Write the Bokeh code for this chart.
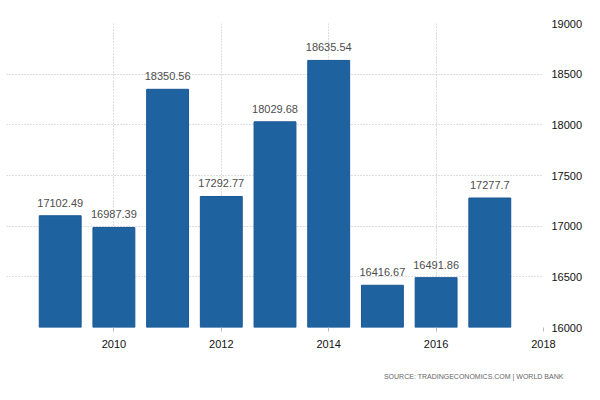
from bokeh.plotting import figure
from bokeh.models import Range1d, FixedTicker, Title
from bokeh.embed import file_html
from bokeh.resources import INLINE
from bokeh.core.properties import value

years = [2009, 2010, 2011, 2012, 2013, 2014, 2015, 2016, 2017]
values = [17102.49, 16987.39, 18350.56, 17292.77, 18029.68, 18635.54, 16416.67, 16491.86, 17277.7]
bar_labels = ["17102.49", "16987.39", "18350.56", "17292.77", "18029.68",
              "18635.54", "16416.67", "16491.86", "17277.7"]
x_ticks = [2010, 2012, 2014, 2016, 2018]
y_ticks = [16000, 16500, 17000, 17500, 18000, 18500, 19000]
source_text = "SOURCE: TRADINGECONOMICS.COM | WORLD BANK"

FONT = "Liberation Sans"

p = figure(width=600, height=400, output_backend="svg", toolbar_location=None,
           x_range=Range1d(2008, 2018), y_range=Range1d(16000, 19000),
           y_axis_location="right",
           min_border_left=6, min_border_right=57, min_border_top=23, min_border_bottom=72)
p.outline_line_color = None
p.background_fill_color = "white"

p.vbar(x=years, top=values, bottom=16000, width=0.78,
       fill_color="#1f62a0", line_color="#1a5794", line_width=1)

p.text(x=years, y=values, text=bar_labels, y_offset=-9,
       text_align="center", text_baseline="bottom",
       text_font=value(FONT), text_font_size="11px", text_color="#4d4d4d")

p.xaxis.ticker = FixedTicker(ticks=x_ticks)
p.yaxis.ticker = FixedTicker(ticks=y_ticks)
for ax in (p.xaxis[0], p.yaxis[0]):
    ax.axis_line_color = None
    ax.minor_tick_line_color = None
    ax.major_label_text_font = FONT
    ax.major_label_text_font_size = "11px"
    ax.major_label_text_color = "#111111"
p.xaxis.major_tick_in = 0
p.xaxis.major_tick_out = 4
p.xaxis.major_tick_line_color = "#bbbbbb"
p.xaxis.major_label_standoff = 8
p.yaxis.major_tick_line_color = None
p.yaxis.major_label_standoff = 2

p.xgrid.ticker = FixedTicker(ticks=[2010, 2012, 2014, 2016])
p.ygrid.ticker = FixedTicker(ticks=y_ticks)
for g in (p.xgrid[0], p.ygrid[0]):
    g.grid_line_color = "#bdbdbd"
    g.grid_line_dash = "1 2"
    g.grid_line_width = 1

src = Title(text=source_text, align="right", text_font=FONT, text_font_size="7px",
            text_font_style="normal", text_color="#666666", standoff=41, offset=-20)
p.add_layout(src, "below")

open("out.html", "w").write(file_html(p, INLINE))
